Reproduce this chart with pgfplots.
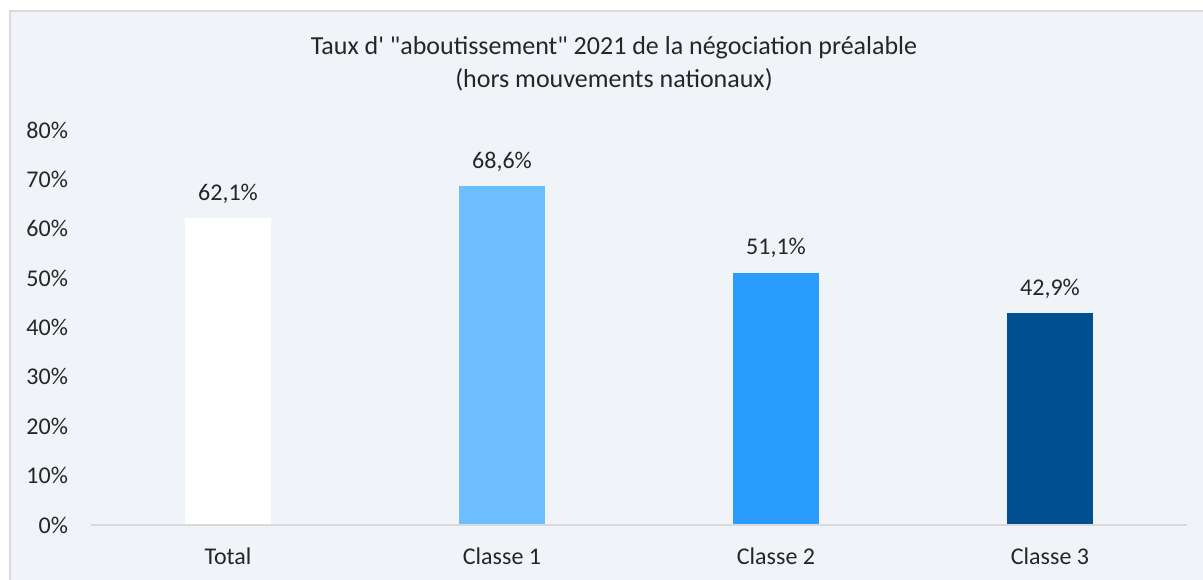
\documentclass[border=0pt]{standalone}
\usepackage{pgfplots}
\pgfplotsset{compat=1.18}
\usepackage{fontspec}
\setmainfont{Carlito}

\definecolor{bgc}{RGB}{240,243,247}
\definecolor{framec}{RGB}{217,217,217}
\definecolor{txt}{RGB}{38,38,38}
\definecolor{cA}{RGB}{108,190,255}
\definecolor{cB}{RGB}{41,156,255}
\definecolor{cC}{RGB}{0,80,145}

\begin{document}
\begin{tikzpicture}
% chart background and frame
\fill[bgc, draw=framec, line width=1pt] (-40.5pt,-40pt) rectangle (570pt,257pt);

\begin{axis}[
  scale only axis,
  width=548pt, height=197.5pt,
  xmin=-0.5, xmax=3.5,
  ymin=0, ymax=80,
  ybar, bar width=43pt, bar shift=0pt,
  axis line style={draw=none},
  major tick length=0pt,
  xtick={0,1,2,3},
  xticklabels={Total,Classe 1,Classe 2,Classe 3},
  ytick={0,10,...,80},
  yticklabel={\pgfmathprintnumber{\tick}\%},
  /pgf/number format/assume math mode=true,
  tick label style={font=\fontsize{12}{14}\selectfont, text=txt},
  yticklabel style={xshift=-8pt},
  xticklabel style={yshift=-8pt},
  nodes near coords={\pgfmathprintnumber[fixed,fixed zerofill,precision=1,use comma,assume math mode=true]{\pgfplotspointmeta}\%},
  every node near coord/.append style={font=\fontsize{12}{14}\selectfont, text=txt, yshift=4pt},
  clip=false,
]
\addplot[fill=white, draw=none] coordinates {(0,62.1)};
\addplot[fill=cA, draw=none] coordinates {(1,68.6)};
\addplot[fill=cB, draw=none] coordinates {(2,51.1)};
\addplot[fill=cC, draw=none] coordinates {(3,42.9)};
\draw[framec, line width=1pt] (rel axis cs:0,0) -- (rel axis cs:1,0);
\end{axis}

\node[align=center, text=txt, font=\fontsize{13}{16.5}\selectfont] at (261.5pt,230.75pt)
  {Taux d\textquotesingle{} \textquotedbl aboutissement\textquotedbl{} 2021 de la négociation préalable\\(hors mouvements nationaux)};

\pgfresetboundingbox
\useasboundingbox (-45.5pt,-27pt) rectangle (556pt,262.5pt);
\end{tikzpicture}
\end{document}
